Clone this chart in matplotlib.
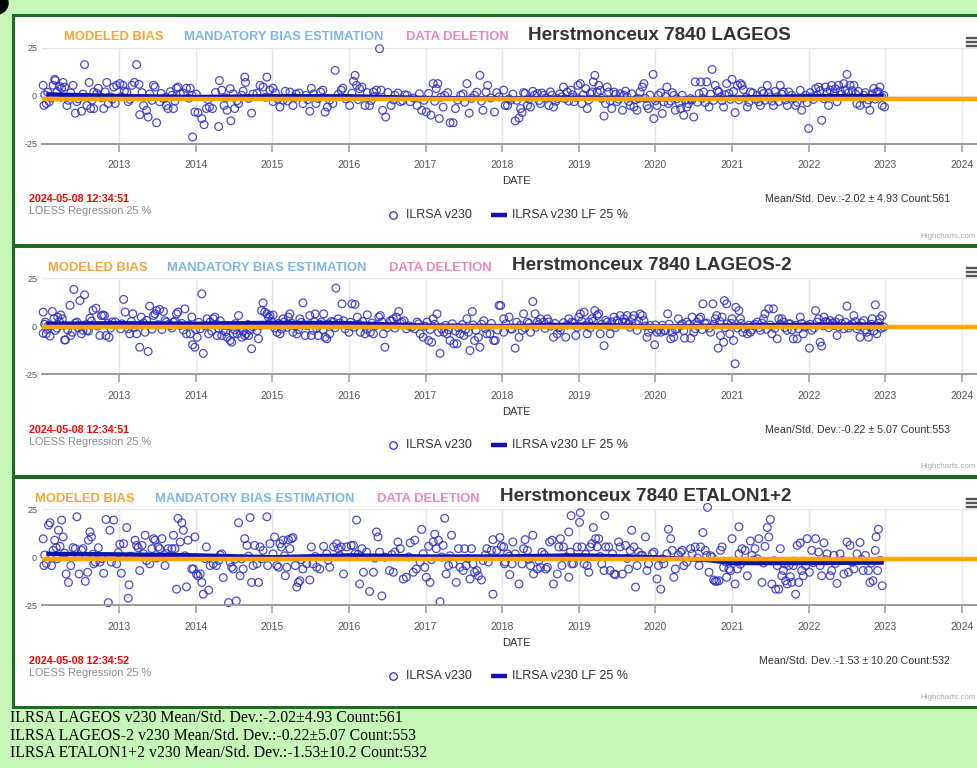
import matplotlib
matplotlib.use('Agg')
import matplotlib.pyplot as plt
from matplotlib.patches import Rectangle, Ellipse
from matplotlib.lines import Line2D

# ---------------- data ----------------
years = [2013, 2014, 2015, 2016, 2017, 2018, 2019, 2020, 2021, 2022, 2023, 2024]
y_ticks = [-25, 0, 25]

titles = ['Herstmonceux 7840 LAGEOS', 'Herstmonceux 7840 LAGEOS-2', 'Herstmonceux 7840 ETALON1+2']
timestamps = ['2024-05-08 12:34:51', '2024-05-08 12:34:51', '2024-05-08 12:34:52']
stats_text = ['Mean/Std. Dev.:-2.02 \u00b1 4.93 Count:561',
              'Mean/Std. Dev.:-0.22 \u00b1 5.07 Count:553',
              'Mean/Std. Dev.:-1.53 \u00b1 10.20 Count:532']
summary_lines = ['ILRSA LAGEOS v230 Mean/Std. Dev.:-2.02\u00b14.93 Count:561',
                 'ILRSA LAGEOS-2 v230 Mean/Std. Dev.:-0.22\u00b15.07 Count:553',
                 'ILRSA ETALON1+2 v230 Mean/Std. Dev.:-1.53\u00b110.2 Count:532']
modeled_bias = [-1.6, -0.4, -0.8]

lageos_pts = [
(2012.01,5.4),(2012.02,-5.1),(2012.05,-4.1),(2012.09,-3.1),(2012.14,5.4),(2012.16,8.5),(2012.17,7.9),(2012.22,4.9),(2012.25,3.9),(2012.27,6.9),(2012.29,4.5),(2012.32,-5.1),(2012.34,-2.4),(2012.40,5.4),(2012.43,-9.1),(2012.45,-3.1),(2012.51,-8.1),(2012.55,16.2),(2012.58,-5.1),(2012.61,6.9),(2012.63,-6.7),(2012.67,-6.7),(2012.67,1.9),(2012.73,3.9),(2012.80,-6.7),(2012.84,6.9),(2012.86,-4.1),(2012.89,-0.6),(2012.93,4.5),(2012.95,-4.1),(2012.97,5.4),(2013.01,6.3),(2013.05,5.4),(2013.10,1.9),(2013.12,-3.1),(2013.17,5.4),(2013.20,6.9),(2013.23,16.2),(2013.26,5.9),(2013.27,-9.9),(2013.32,-5.1),(2013.36,-7.6),(2013.38,-11.1),(2013.40,0.9),(2013.45,5.4),(2013.47,4.5),(2013.49,-14.1),(2013.53,-3.1),(2013.58,-1.5),(2013.62,-5.1),(2013.64,-6.7),(2013.69,0.2),(2013.71,-6.7),(2013.75,3.9),(2013.77,4.5),(2013.80,0.9),(2013.88,3.9),(2013.93,3.9),(2013.95,0.2),(2013.96,-21.5),(2013.99,-8.5),(2014.03,-8.8),(2014.08,-11.9),(2014.11,-15.1),(2014.14,-6.7),(2014.18,-5.9),(2014.22,-6.7),(2014.30,-16.1),(2014.31,7.9),(2014.34,2.9),(2014.37,-5.1),(2014.41,-7.6),(2014.45,3.7),(2014.46,-13.1),(2014.51,-6.7),(2014.56,-4.1),(2014.60,0.2),(2014.64,9.7),(2014.65,6.9),(2014.73,-9.1),(2014.75,0.9),(2014.84,5.4),(2014.88,4.5),(2014.93,9.7),(2014.97,2.9),(2015.01,3.9),(2015.01,-3.1),(2015.10,-5.9),(2015.14,-2.4),(2015.23,1.9),(2015.27,-5.1),(2015.31,0.9),(2015.40,-4.1),(2015.44,0.2),(2015.49,-8.1),(2015.51,3.9),(2015.57,-4.1),(2015.66,2.9),(2015.69,-8.5),(2015.72,-5.9),(2015.79,-4.1),(2015.82,13.2),(2015.90,2.9),(2015.92,3.9),(2016.01,-5.1),(2016.06,7.5),(2016.08,10.6),(2016.10,5.4),(2016.14,3.7),(2016.17,4.5),(2016.21,-5.1),(2016.27,-5.1),(2016.32,1.9),(2016.36,2.9),(2016.40,24.5),(2016.42,2.9),(2016.44,-7.6),(2016.48,-11.1),(2016.55,-5.1),(2016.60,0.2),(2016.67,-3.1),(2016.76,0.2),(2016.80,-3.1),(2016.89,-5.1),(2016.95,-7.6),(2017.01,-8.5),(2017.07,-10.1),(2017.10,6.3),(2017.14,3.7),(2017.16,6.3),(2017.18,-11.9),(2017.23,-5.9),(2017.25,0.2),(2017.32,-14.1),(2017.36,-14.1),(2017.39,-6.7),(2017.46,0.2),(2017.54,6.3),(2017.57,-9.1),(2017.64,0.2),(2017.71,10.6),(2017.75,-7.6),(2017.79,1.9),(2017.81,5.4),(2017.90,-8.5),(2017.96,-0.6),(2018.02,2.9),(2018.04,-5.1),
(2018.07,-5.1),(2018.11,-2.4),(2018.17,-13.1),(2018.22,-11.6),(2018.24,-6.7),(2018.26,-8.8),(2018.28,1.6),(2018.33,-5.1),(2018.37,-5.9),(2018.42,0.2),(2018.46,1.1),(2018.50,-4.1),(2018.54,0.2),(2018.61,-5.1),(2018.65,0.2),(2018.67,-5.9),(2018.72,-1.5),(2018.78,-0.6),(2018.80,4.5),(2018.85,1.9),(2018.90,2.9),(2018.94,-3.1),(2018.99,5.4),(2019.02,6.3),(2019.04,-4.1),(2019.09,3.7),(2019.11,-6.7),(2019.15,1.1),(2019.19,7.2),(2019.21,10.6),(2019.24,1.9),(2019.26,5.4),(2019.28,2.8),(2019.33,-10.6),(2019.35,-4.1),(2019.37,4.5),(2019.39,1.9),(2019.43,-6.7),(2019.46,1.9),(2019.50,-3.1),(2019.54,1.1),(2019.57,-7.6),(2019.59,0.2),(2019.63,-0.6),(2019.67,-5.1),(2019.72,-5.9),(2019.76,-7.6),(2019.78,-1.5),(2019.80,1.9),(2019.83,4.5),(2019.85,6.3),(2019.89,-5.1),(2019.91,-6.7),(2019.97,11.1),(2019.98,-11.9),(2020.02,-5.1),(2020.04,0.2),(2020.09,-9.3),(2020.15,4.5),(2020.17,-4.1),(2020.24,0.2),(2020.26,-7.6),(2020.33,-6.7),(2020.37,-10.2),(2020.41,-5.9),(2020.46,-1.5),(2020.50,-11.1),(2020.52,7.2),(2020.57,1.1),(2020.59,7.2),(2020.63,1.9),(2020.67,7.2),(2020.70,-5.9),(2020.74,13.7),(2020.78,5.4),(2020.83,1.9),(2020.85,-0.6),(2020.89,-5.9),(2020.93,6.3),(2020.96,1.1),(2021.00,8.5),(2021.04,-8.8),(2021.07,5.4),(2021.11,6.3),(2021.13,5.4),(2021.20,-5.9),(2021.24,1.9),(2021.33,0.2),(2021.37,-5.1),(2021.41,1.1),(2021.46,5.4),(2021.50,-0.6),(2021.54,-5.1),(2021.59,-0.6),(2021.63,5.4),(2021.67,1.9),(2021.72,-5.1),(2021.78,0.2),(2021.83,-5.1),(2021.89,2.8),(2021.91,-7.6),(2021.96,0.2),(2022.00,-17.1),(2022.04,-0.6),(2022.09,3.7),(2022.13,4.5),(2022.17,-12.8),(2022.22,4.5),(2022.26,-5.1),(2022.30,5.4),(2022.37,-3.1),(2022.39,5.4),(2022.46,6.3),(2022.50,11.1),(2022.54,5.4),(2022.59,5.4),(2022.63,-4.1),(2022.67,-5.1),(2022.72,0.2),(2022.76,-4.1),(2022.80,-7.6),(2022.85,3.7),(2022.89,1.9),(2022.93,4.5),(2022.96,-5.1),(2022.98,0.2),(2022.99,-5.9),
]
lageos_cluster = [
(2012.03,0.5),(2012.07,1.8),(2012.11,-1.2),(2012.19,2.2),(2012.24,-0.8),(2012.37,1.5),(2012.47,-1.6),(2012.53,0.8),(2012.65,-2.2),(2012.71,1.2),(2012.77,-1.0),(2012.82,2.0),(2012.91,-1.8),(2013.03,-0.5),(2013.07,2.4),(2013.14,-1.9),(2013.30,1.6),(2013.43,-2.4),(2013.55,1.2),(2013.61,-0.9),(2013.67,2.1),(2013.73,-2.8),(2013.84,1.4),(2013.91,-1.3),(2014.01,0.8),(2014.16,-2.0),(2014.26,1.7),(2014.39,-1.1),(2014.49,1.0),(2014.54,-2.6),(2014.62,2.4),(2014.69,-1.4),(2014.80,1.2),(2014.91,-0.8),(2015.04,1.5),(2015.07,-1.8),(2015.17,2.3),(2015.20,-2.7),(2015.29,-1.0),(2015.35,1.4),(2015.46,-2.1),(2015.54,0.9),(2015.60,-1.5),(2015.63,1.9),(2015.75,-2.3),(2015.86,0.6),(2015.96,-1.7),(2016.04,1.3),(2016.12,-2.0),(2016.24,1.6),(2016.29,-2.5),(2016.34,-0.4),(2016.51,1.7),(2016.58,-2.2),(2016.64,1.4),(2016.70,-2.6),(2016.73,0.5),(2016.84,-1.2),(2016.92,1.0),(2016.98,-2.4),(2017.04,1.2),(2017.12,-2.9),(2017.20,-0.8),(2017.29,1.6),(2017.42,-2.2),(2017.49,0.9),(2017.51,-3.4),(2017.60,-1.4),(2017.67,1.8),(2017.73,-2.8),(2017.85,-1.2),(2017.93,1.6),(2018.09,-1.6),(2018.14,0.8),(2018.19,-2.4),(2018.30,1.2),(2018.35,-1.8),(2018.40,2.3),(2018.48,-2.5),(2018.52,1.4),(2018.57,-1.2),(2018.63,2.0),(2018.70,-2.9),(2018.75,0.9),(2018.82,-1.6),(2018.87,-2.8),(2018.92,0.5),(2018.97,-1.0),(2019.06,0.4),(2019.13,-2.2),(2019.17,2.0),(2019.30,-1.4),(2019.41,-2.6),(2019.48,0.7),(2019.52,-1.8),(2019.61,2.4),(2019.65,-2.9),(2019.69,1.0),(2019.74,-2.0),(2019.87,-1.4),(2019.93,0.3),(2020.00,-2.6),(2020.07,1.5),(2020.11,-3.2),(2020.13,-0.4),(2020.20,-2.8),(2020.22,1.6),(2020.28,-1.6),(2020.31,-3.6),(2020.35,0.2),(2020.39,-2.4),(2020.43,-4.1),(2020.48,-2.2),(2020.55,-3.4),(2020.61,-1.4),(2020.65,-3.6),(2020.72,0.8),(2020.76,-2.4),(2020.81,2.6),(2020.87,-2.6),(2020.91,0.4),(2020.98,-1.9),(2021.02,2.2),(2021.09,-2.2),(2021.15,3.2),(2021.18,-1.0),(2021.22,-3.4),(2021.27,1.4),(2021.30,-1.8),(2021.35,-3.2),(2021.39,2.4),(2021.43,-2.4),(2021.48,1.2),(2021.52,-2.8),(2021.56,2.2),(2021.61,-3.0),(2021.65,0.8),(2021.70,-2.2),(2021.74,2.0),(2021.80,-1.4),(2021.85,-3.4),(2021.93,-1.2),(2021.98,-3.6),(2022.02,1.6),(2022.06,-2.0),(2022.11,0.4),(2022.15,2.6),(2022.20,-1.6),(2022.24,1.8),(2022.28,2.9),(2022.33,1.2),(2022.35,3.6),(2022.41,2.4),(2022.43,0.6),(2022.48,3.0),(2022.52,1.4),(2022.57,2.6),(2022.61,0.8),(2022.65,2.2),(2022.70,-1.2),(2022.74,1.6),(2022.78,-2.2),(2022.83,0.9),(2022.87,-1.8),(2022.91,2.0),(2022.95,-0.4),
]

lageos2_pts = [
(2012.01,7.5),(2012.01,-3.5),(2012.05,-3.8),(2012.10,-5.0),(2012.04,2.3),(2012.08,0.5),(2012.13,7.8),(2012.15,4.0),(2012.17,-2.0),(2012.20,4.9),(2012.24,6.0),(2012.26,4.0),(2012.29,-7.0),(2012.30,-7.0),(2012.36,11.0),(2012.37,-4.7),(2012.39,-3.0),(2012.41,19.3),(2012.45,2.3),(2012.49,13.5),(2012.51,-3.8),(2012.53,-2.0),(2012.55,16.5),(2012.58,-2.0),(2012.62,4.3),(2012.66,8.5),(2012.70,9.5),(2012.75,-4.7),(2012.77,5.7),(2012.79,6.0),(2012.81,5.7),(2012.83,-4.7),(2012.87,-5.6),(2012.91,2.3),
(2013.06,14.1),(2013.08,7.5),(2013.12,-1.2),(2013.14,-3.8),(2013.18,6.6),(2013.23,-3.8),(2013.27,-10.8),(2013.29,4.9),(2013.34,-3.0),(2013.38,-13.0),(2013.40,10.6),(2013.45,5.7),(2013.47,6.6),(2013.49,8.3),(2013.53,8.9),(2013.58,7.8),(2013.62,2.3),(2013.67,0.5),(2013.71,2.3),(2013.75,6.6),(2013.77,7.5),(2013.80,0.5),(2013.86,9.2),(2013.88,-3.8),(2013.93,-3.8),(2013.95,4.9),(2013.96,-9.5),(2013.99,-10.8),(2014.02,-5.6),(2014.06,-1.2),(2014.08,17.0),(2014.10,-14.0),(2014.15,4.0),(2014.17,-3.8),(2014.19,2.3),(2014.23,4.0),(2014.25,4.9),(2014.28,-4.7),(2014.32,3.0),(2014.34,-4.7),(2014.36,-2.0),(2014.41,-5.6),(2014.43,0.5),(2014.45,-7.3),(2014.47,-8.2),(2014.49,-3.8),(2014.54,-3.8),(2014.56,5.7),(2014.60,-5.6),(2014.64,-4.7),(2014.66,-3.8),(2014.69,-4.7),(2014.73,-11.6),(2014.77,0.5),(2014.82,-6.4),(2014.84,0.5),(2014.86,8.3),(2014.88,12.3),(2014.90,7.5),(2014.93,6.6),(2014.95,4.9),(2014.97,5.7),(2015.01,6.0),
(2015.06,-3.0),(2015.10,-3.8),(2015.14,4.0),(2015.21,4.9),(2015.23,6.6),(2015.27,-3.0),(2015.32,-3.8),(2015.36,4.0),(2015.40,12.3),(2015.43,-4.7),(2015.45,0.5),(2015.49,5.7),(2015.51,-4.7),(2015.53,-2.0),(2015.56,6.6),(2015.60,-4.7),(2015.64,2.3),(2015.67,6.6),(2015.69,-5.6),(2015.71,-6.4),(2015.75,-3.8),(2015.80,2.3),(2015.83,20.0),(2015.86,4.0),(2015.91,11.8),(2015.95,-1.2),(2016.00,-3.0),(2016.04,11.8),(2016.08,11.5),(2016.11,4.9),(2016.15,-3.0),(2016.21,-3.8),(2016.24,6.1),(2016.28,-3.0),(2016.32,-3.8),(2016.39,4.9),(2016.41,5.7),(2016.45,-3.8),(2016.47,-10.8),(2016.54,3.0),(2016.58,4.0),(2016.62,4.9),(2016.65,7.8),(2016.69,2.3),(2016.75,-1.2),(2016.82,-0.3),(2016.89,2.3),(2016.93,-3.8),(2016.97,-5.6),(2017.02,2.3),(2017.04,-7.3),(2017.08,-8.2),(2017.10,4.0),(2017.15,6.6),(2017.17,-3.0),(2017.19,-14.0),(2017.24,-3.0),(2017.28,-3.8),(2017.32,-7.3),(2017.37,-9.0),(2017.41,-9.0),(2017.45,-3.8),(2017.50,-4.7),(2017.54,4.0),(2017.56,-3.0),(2017.58,-12.5),(2017.61,7.8),(2017.64,-7.3),(2017.69,-5.6),(2017.71,-10.8),(2017.76,3.0),(2017.80,-3.8),(2017.84,-3.8),(2017.89,-7.3),(2017.91,-7.3),(2017.96,11.0),(2018.02,-3.0),
(2017.98,10.9),(2018.02,4.0),(2018.09,4.9),(2018.11,-1.2),(2018.17,-11.3),(2018.22,-5.6),(2018.26,-2.0),(2018.28,6.6),(2018.33,2.3),(2018.37,-3.0),(2018.40,13.0),(2018.43,6.6),(2018.46,2.3),(2018.50,4.0),(2018.54,2.3),(2018.59,4.0),(2018.67,-5.6),(2018.72,-3.8),(2018.76,-2.0),(2018.83,-5.6),(2018.87,4.0),(2018.91,2.3),(2018.96,-4.7),(2019.00,4.9),(2019.02,6.6),(2019.07,7.5),(2019.11,-3.8),(2019.13,2.3),(2019.17,4.0),(2019.21,8.3),(2019.24,5.7),(2019.26,6.6),(2019.28,-3.8),(2019.33,-10.0),(2019.37,2.3),(2019.41,-3.8),(2019.46,4.9),(2019.50,3.1),(2019.54,5.7),(2019.57,2.3),(2019.59,4.0),(2019.63,5.7),(2019.65,1.4),(2019.70,4.0),(2019.72,5.7),(2019.76,-2.0),(2019.80,6.6),(2019.83,5.7),(2019.85,3.1),(2019.89,-5.6),(2019.91,-3.0),(2019.93,0.5),(2019.99,-9.5),(2020.02,-3.0),(2020.07,-3.0),(2020.11,-2.0),(2020.16,6.6),(2020.20,-6.4),(2020.22,-3.0),(2020.24,-5.6),(2020.28,-1.2),(2020.30,4.0),(2020.35,1.4),(2020.38,-6.1),(2020.41,2.3),(2020.46,-6.1),(2020.48,4.9),(2020.50,-3.0),(2020.54,2.3),(2020.57,4.0),(2020.59,4.9),(2020.62,11.8),(2020.65,1.4),(2020.72,-3.0),(2020.75,11.8),(2020.78,4.0),(2020.80,5.7),(2020.82,-11.3),(2020.85,-4.7),(2020.87,4.9),(2020.89,-8.2),(2020.90,13.5),(2020.93,11.8),(2020.94,1.4),(2020.97,-3.8),(2021.00,4.0),(2021.02,-7.3),(2021.04,-19.4),(2021.05,10.0),(2021.09,8.3),(2021.11,4.0),(2021.14,-3.0),(2021.20,-3.8),(2021.24,-3.0),(2021.28,0.5),(2021.33,2.3),(2021.37,-2.0),(2021.41,4.0),(2021.43,6.6),(2021.48,9.2),(2021.52,-3.8),(2021.54,9.2),(2021.59,-6.4),(2021.61,4.0),(2021.65,4.0),(2021.67,2.3),(2021.72,-2.0),(2021.76,1.4),(2021.80,-6.4),(2021.85,-6.4),(2021.89,4.9),(2021.93,-3.8),(2021.98,0.5),(2022.01,-11.3),(2022.04,-2.0),(2022.09,8.3),(2022.13,4.0),(2022.15,-8.2),(2022.17,-10.2),(2022.20,4.9),(2022.24,2.3),(2022.28,3.1),(2022.33,0.5),(2022.37,-4.7),(2022.40,4.0),(2022.46,-1.2),(2022.50,10.6),(2022.54,0.5),(2022.59,5.7),(2022.63,-1.2),(2022.67,-5.6),(2022.72,3.1),(2022.78,-5.6),(2022.80,-0.3),(2022.83,4.0),(2022.87,11.3),(2022.89,-3.8),(2022.93,4.0),(2022.96,5.7),(2022.98,-0.3),
]
lageos2_cluster = [
(2012.03,1.2),(2012.06,-1.5),(2012.11,0.4),(2012.19,-0.8),(2012.22,2.6),(2012.28,0.6),(2012.33,-1.8),(2012.43,1.8),(2012.47,-0.6),(2012.57,1.0),(2012.60,-2.4),(2012.64,2.8),(2012.72,0.2),(2012.85,1.6),(2012.89,-0.8),(2012.95,2.4),(2013.02,-1.2),(2013.04,1.4),(2013.16,2.6),(2013.20,-0.6),(2013.32,1.8),(2013.36,3.2),(2013.43,-1.4),(2013.51,1.0),(2013.56,-1.6),(2013.60,3.0),(2013.65,1.2),(2013.69,-0.8),(2013.73,2.8),(2013.82,1.6),(2013.84,-1.8),(2013.91,0.8),(2014.00,-1.5),(2014.04,2.2),(2014.12,0.4),(2014.21,-2.4),(2014.27,1.2),(2014.30,-1.0),(2014.38,0.6),(2014.39,-2.8),(2014.51,-1.8),(2014.52,1.5),(2014.58,-0.6),(2014.62,-2.6),(2014.68,1.0),(2014.71,-1.8),(2014.75,-0.2),(2014.80,-2.2),(2014.99,2.6),(2015.03,-0.8),(2015.08,1.6),(2015.12,-1.4),(2015.16,2.4),(2015.19,-0.4),(2015.25,1.8),(2015.30,0.2),(2015.34,-1.6),(2015.38,2.2),(2015.47,0.8),(2015.55,2.4),(2015.58,-1.0),(2015.62,1.2),(2015.66,-1.6),(2015.73,1.4),(2015.77,2.6),(2015.82,-0.6),(2015.88,1.8),(2015.93,3.0),(2015.98,0.6),(2016.02,2.2),(2016.06,-0.4),(2016.13,1.2),(2016.18,2.6),(2016.23,-1.4),(2016.30,1.8),(2016.35,0.4),(2016.43,2.4),(2016.50,-0.6),(2016.56,2.8),(2016.60,-0.8),(2016.67,1.6),(2016.72,3.0),(2016.78,0.4),(2016.86,-1.2),(2016.91,1.4),(2016.99,0.2),(2017.06,-1.6),(2017.12,1.2),(2017.21,-1.2),(2017.26,0.6),(2017.30,-1.8),(2017.35,1.4),(2017.39,-2.4),(2017.43,-0.6),(2017.48,1.0),(2017.52,-1.6),(2017.62,0.8),(2017.66,-2.0),(2017.73,1.2),(2017.78,-1.0),(2017.86,1.6),(2017.94,-1.8),(2018.05,1.4),(2018.13,-1.4),(2018.19,2.2),(2018.24,0.6),(2018.30,-0.8),(2018.35,1.6),(2018.44,-0.4),(2018.48,1.2),(2018.56,-1.0),(2018.61,2.4),(2018.63,0.2),(2018.69,1.6),(2018.74,-0.6),(2018.80,2.0),(2018.85,0.8),(2018.93,1.8),(2018.98,-0.4),(2019.04,2.6),(2019.09,0.6),(2019.15,-0.8),(2019.19,2.8),(2019.30,1.2),(2019.35,3.2),(2019.39,0.4),(2019.43,2.4),(2019.48,-0.6),(2019.52,1.8),(2019.61,2.2),(2019.67,-0.4),(2019.74,1.6),(2019.78,2.8),(2019.87,0.2),(2019.95,-1.2),(2020.00,0.8),(2020.04,-1.6),(2020.09,0.6),(2020.13,-2.2),(2020.18,1.2),(2020.26,-1.4),(2020.33,0.4),(2020.37,-2.2),(2020.43,1.0),(2020.52,-1.2),(2020.55,0.8),(2020.61,-1.6),(2020.67,1.8),(2020.70,-0.8),(2020.77,1.2),(2020.84,2.6),(2020.91,-0.6),(2020.99,1.6),(2021.07,-0.8),(2021.12,1.6),(2021.17,-1.2),(2021.22,0.6),(2021.26,-1.8),(2021.30,1.2),(2021.35,-0.6),(2021.39,1.8),(2021.45,-1.4),(2021.50,0.8),(2021.56,-1.0),(2021.63,1.2),(2021.69,-0.6),(2021.74,1.4),(2021.78,-1.8),(2021.83,0.6),(2021.87,-1.2),(2021.91,1.6),(2021.95,-0.4),(2022.02,1.2),(2022.07,-0.8),(2022.11,2.2),(2022.19,0.4),(2022.22,2.6),(2022.26,-0.6),(2022.31,1.8),(2022.35,2.4),(2022.39,-0.2),(2022.43,1.6),(2022.48,2.2),(2022.52,-0.8),(2022.57,1.4),(2022.61,2.6),(2022.65,0.2),(2022.69,1.8),(2022.74,-1.6),(2022.76,-3.0),(2022.82,1.2),(2022.85,-2.4),(2022.91,1.6),(2022.94,-1.0),
]

etalon_pts = [
(2012.01,9.6),(2012.02,-4.3),(2012.05,-3.1),(2012.08,16.8),(2012.10,18.0),(2012.12,-4.3),(2012.14,3.6),(2012.16,8.9),(2012.18,5.0),(2012.21,14.1),(2012.23,5.7),(2012.25,19.4),(2012.27,10.6),(2012.31,-8.7),(2012.34,-13.1),(2012.37,-4.3),(2012.40,5.0),(2012.43,4.5),(2012.45,21.1),(2012.48,-8.7),(2012.51,3.6),(2012.53,4.5),(2012.56,-12.5),(2012.59,-7.8),(2012.60,8.9),(2012.62,13.2),(2012.64,10.6),(2012.67,-3.4),(2012.69,-2.5),(2012.73,5.0),(2012.75,-2.5),(2012.80,-8.3),(2012.83,19.7),(2012.86,-23.6),(2012.88,14.1),(2012.90,-2.5),(2012.93,19.4),(2012.97,-3.4),(2013.01,6.8),(2013.03,-8.3),(2013.06,7.1),(2013.10,15.5),(2013.12,-21.3),(2013.13,-14.3),(2013.21,8.9),(2013.23,6.2),(2013.25,5.0),(2013.27,-6.9),(2013.30,6.2),(2013.34,11.5),(2013.36,-1.7),(2013.40,-3.4),(2013.43,4.5),(2013.45,9.7),(2013.47,8.9),(2013.51,5.4),(2013.53,4.5),(2013.56,9.7),(2013.60,-4.3),(2013.64,4.5),(2013.69,4.5),(2013.71,11.5),(2013.73,4.5),(2013.75,-16.6),(2013.77,20.3),(2013.80,8.0),(2013.82,18.0),(2013.84,14.1),(2013.88,-15.4),(2013.90,8.9),(2013.95,-6.1),(2013.97,-6.1),(2013.99,10.6),(2014.01,-8.7),(2014.03,-9.6),(2014.06,-8.7),(2014.08,-13.1),(2014.10,-19.2),(2014.14,5.4),(2014.17,-17.1),(2014.19,-4.3),(2014.23,-3.4),(2014.27,-4.3),(2014.30,-1.7),(2014.34,1.8),(2014.36,-10.6),(2014.43,-23.6),(2014.45,-2.5),(2014.47,-5.2),(2014.49,-6.1),(2014.53,-22.7),(2014.56,18.0),(2014.58,-9.6),(2014.60,-0.8),(2014.62,-6.1),(2014.64,9.7),(2014.67,6.2),(2014.71,20.7),(2014.73,-13.1),(2014.75,-4.3),(2014.77,6.2),(2014.80,-3.4),(2014.82,-13.1),(2014.84,5.4),(2014.88,3.6),(2014.93,21.1),(2014.94,-4.3),(2014.97,7.1),(2015.01,1.8),(2015.03,10.6),(2015.06,-4.3),(2015.08,-5.2),(2015.10,7.1),(2015.12,5.4),(2015.14,8.9),(2015.17,-9.6),(2015.19,-5.2),(2015.21,9.2),(2015.23,4.5),(2015.25,9.7),(2015.27,10.3),(2015.30,-4.3),(2015.32,-15.5),(2015.34,-13.1),(2015.36,-12.2),(2015.40,-6.1),(2015.45,-3.4),(2015.49,-11.8),(2015.51,5.4),(2015.53,-3.4),(2015.58,-5.2),(2015.62,-6.1),(2015.67,5.7),(2015.71,1.8),(2015.75,-5.2),(2015.80,5.4),(2015.84,7.1),(2015.86,4.5),(2015.90,5.4),(2015.93,-8.7),(2015.97,5.4),(2016.03,6.2),(2016.06,6.2),(2016.08,1.8),(2016.10,19.4),(2016.14,-13.9),(2016.17,4.5),(2016.19,-7.8),(2016.23,2.7),(2016.27,-17.8),(2016.32,-7.8),(2016.36,13.2),(2016.38,10.6),(2016.40,2.7),(2016.43,-20.1),(2016.47,0.1),(2016.53,-6.9),(2016.58,-7.8),(2016.60,2.7),(2016.64,8.0),(2016.67,4.5),(2016.71,-11.3),(2016.75,-10.4),(2016.80,7.5),(2016.84,-7.8),(2016.86,8.9),(2016.88,-6.1),(2016.93,-2.5),(2016.95,14.5),(2016.97,1.8),(2016.99,-5.2),(2017.01,-10.4),(2017.04,5.7),(2017.06,-13.1),(2017.10,8.0),(2017.12,12.0),(2017.14,4.5),(2017.17,8.9),(2017.19,-23.1),(2017.21,0.1),(2017.23,6.2),(2017.25,20.3),(2017.27,-8.7),(2017.30,-4.3),(2017.34,11.5),(2017.36,-3.4),(2017.40,-13.1),(2017.43,4.5),(2017.45,-5.2),(2017.49,-6.9),(2017.51,4.5),(2017.53,-4.3),(2017.58,-11.3),(2017.60,4.5),(2017.62,-3.4),(2017.64,-7.8),(2017.67,-6.9),(2017.69,-9.6),(2017.73,-11.8),(2017.75,-1.7),(2017.80,4.5),(2017.82,-2.5),(2017.86,3.6),(2017.88,-19.2),(2017.88,9.2),(2017.93,3.6),(2017.97,10.3),(2017.99,5.7),(2018.03,-3.4),
(2018.02,5.4),(2018.04,-2.5),(2018.07,1.8),(2018.10,-9.0),(2018.13,-3.4),(2018.14,8.0),(2018.17,1.8),(2018.22,-13.9),(2018.26,-3.4),(2018.28,4.5),(2018.30,9.2),(2018.33,3.6),(2018.37,-4.3),(2018.40,11.5),(2018.41,-8.7),(2018.46,-6.1),(2018.48,-1.7),(2018.50,-5.2),(2018.52,2.7),(2018.57,-6.1),(2018.59,-5.2),(2018.62,8.0),(2018.65,8.9),(2018.67,-13.9),(2018.72,-8.7),(2018.74,5.4),(2018.76,9.7),(2018.78,-4.3),(2018.80,5.4),(2018.87,-10.4),(2018.87,13.2),(2018.89,2.7),(2018.90,21.7),(2018.91,-3.4),(2018.93,-3.4),(2018.98,5.4),(2019.01,18.2),(2019.02,23.2),(2019.04,5.4),(2019.07,-3.4),(2019.11,-4.3),(2019.13,-7.8),(2019.15,5.4),(2019.17,7.1),(2019.19,15.5),(2019.22,9.7),(2019.24,5.4),(2019.26,9.7),(2019.30,-3.4),(2019.33,-6.9),(2019.34,21.7),(2019.35,5.4),(2019.39,5.4),(2019.41,-6.9),(2019.46,-8.7),(2019.48,-9.0),(2019.52,8.0),(2019.54,5.4),(2019.57,-8.7),(2019.61,6.2),(2019.65,-6.1),(2019.67,3.6),(2019.69,14.1),(2019.72,5.4),(2019.74,-15.5),(2019.76,-4.3),(2019.78,2.7),(2019.83,1.0),(2019.87,10.6),(2019.89,-6.9),(2019.91,-3.4),(2019.96,1.8),(2019.98,2.7),(2020.02,-11.3),(2020.04,-4.3),(2020.07,-16.6),(2020.11,-3.4),(2020.15,1.8),(2020.17,14.6),(2020.20,9.7),(2020.22,3.6),(2020.24,-10.4),(2020.26,-6.1),(2020.33,2.7),(2020.35,3.6),(2020.37,-4.3),(2020.41,-2.5),(2020.46,4.5),(2020.48,1.8),(2020.52,5.4),(2020.57,-4.3),(2020.59,5.4),(2020.62,12.9),(2020.65,3.6),(2020.67,1.0),(2020.68,26.0),(2020.70,-7.8),(2020.74,0.1),(2020.76,-11.8),(2020.78,-12.5),(2020.80,-12.5),(2020.83,-12.2),(2020.85,3.6),(2020.87,5.4),(2020.89,-5.2),(2020.93,-10.4),(2020.96,-6.1),(2020.98,-6.9),(2021.00,9.7),(2021.04,-13.9),(2021.07,-6.1),(2021.09,1.8),(2021.09,15.9),(2021.13,4.5),(2021.17,3.6),(2021.20,-9.6),(2021.24,8.5),(2021.26,1.0),(2021.30,4.5),(2021.33,-0.8),(2021.35,9.7),(2021.39,-13.1),(2021.43,5.7),(2021.46,15.5),(2021.48,10.6),(2021.50,19.7),(2021.52,-13.9),(2021.57,-16.6),(2021.59,-4.3),(2021.61,-16.6),(2021.63,4.5),(2021.65,-9.6),(2021.67,-6.9),(2021.70,-12.2),(2021.72,-13.9),(2021.74,-4.3),(2021.76,-10.1),(2021.78,-13.1),(2021.80,-4.3),(2021.83,-19.2),(2021.85,6.2),(2021.87,-13.1),(2021.89,7.5),(2021.91,-6.9),(2021.93,-9.6),(2021.96,-4.3),(2021.98,9.7),(2022.01,-7.8),(2022.04,3.6),(2022.09,9.7),(2022.13,2.7),(2022.15,-4.3),(2022.17,-9.6),(2022.20,7.5),(2022.24,1.8),(2022.28,-9.6),(2022.30,-6.9),(2022.33,1.0),(2022.37,-13.6),(2022.41,1.8),(2022.46,-8.7),(2022.50,8.0),(2022.52,-7.8),(2022.54,6.2),(2022.59,-6.1),(2022.63,1.8),(2022.67,7.7),(2022.71,-6.9),(2022.74,1.0),(2022.78,-6.9),(2022.80,-13.1),(2022.84,-12.2),(2022.87,3.6),(2022.88,10.6),(2022.90,-6.9),(2022.91,14.6),(2022.96,-14.8),
]
etalon_cluster = [
(2012.03,1.2),(2012.19,-0.8),(2012.29,2.2),(2012.47,0.4),(2012.66,1.6),(2012.78,-0.6),(2012.99,2.4),(2013.15,0.6),(2013.32,1.8),(2013.49,-0.4),(2013.62,2.0),(2013.86,0.8),(2014.12,-0.6),(2014.32,1.2),(2014.51,-1.0),(2014.69,0.6),(2014.86,-0.8),(2015.16,0.8),(2015.38,-1.2),(2015.56,0.4),(2015.73,-1.4),(2015.88,1.0),(2016.12,1.6),(2016.34,-0.4),(2016.56,1.4),(2016.78,0.2),(2017.08,-1.2),(2017.32,0.8),(2017.55,-0.6),(2017.78,1.2),(2018.09,0.6),(2018.35,-1.0),(2018.55,1.4),(2018.84,0.2),(2019.09,1.6),(2019.28,0.4),(2019.44,1.8),(2019.63,-0.6),(2019.81,1.0),(2020.09,-0.8),(2020.30,1.2),(2020.55,-0.4),(2020.72,0.8),(2020.92,-2.4),(2021.11,-3.6),(2021.28,-1.4),(2021.41,-3.0),(2021.55,-1.8),(2021.69,-3.4),(2021.81,-2.0),(2022.06,-2.8),(2022.22,-1.2),(2022.35,-3.2),(2022.44,-1.6),(2022.57,-2.6),(2022.69,-1.0),(2022.82,-3.0),(2022.93,-1.6),
]

lf_t = [2012.05, 2013, 2014, 2015, 2016, 2017, 2018, 2019, 2020, 2021, 2022, 2022.98]
lageos_lf = [0.7, -0.2, -0.7, -0.3, -0.3, -1.2, -1.5, -1.0, -1.9, -1.0, -0.3, -0.2]
lageos2_lf = [1.4, 1.7, 1.4, 1.9, 1.7, 0.5, 0.2, 1.0, 0.0, 0.5, 0.9, 1.0]
etalon_lf_t = [2012.05, 2013, 2014, 2015, 2016, 2017, 2018, 2019, 2020, 2020.7, 2021, 2022, 2022.98]
etalon_lf = [1.8, 1.5, 1.0, 0.0, 1.0, 0.4, 0.4, 1.0, 0.0, -1.5, -3.0, -3.0, -2.7]

panels = [
    dict(pts=lageos_pts + lageos_cluster, lf_t=lf_t, lf=lageos_lf),
    dict(pts=lageos2_pts + lageos2_cluster, lf_t=lf_t, lf=lageos2_lf),
    dict(pts=etalon_pts + etalon_cluster, lf_t=etalon_lf_t, lf=etalon_lf),
]

# ---------------- layout ----------------
W, H = 978, 768
plt.rcParams['font.family'] = ['Liberation Sans', 'DejaVu Sans']
fig = plt.figure(figsize=(W / 100, H / 100), dpi=100)
fig.patch.set_facecolor('#c6f7b7')

def fx(x):
    return x / W

def fy(y):
    return 1 - y / H

STEP = 230.8
AX_L, AX_R, AX_T, AX_B = 42.4, 978.0, 47.7, 143.7
label_x = [(64, 184, 406, 528), (48, 167, 389, 512), (35, 155, 377, 500)]
label_names = ['MODELED BIAS', 'MANDATORY BIAS ESTIMATION', 'DATA DELETION']
label_colors = ['#f7a535', '#7cb5ec', '#ec86bd']
PT_COLOR = '#2d2dcc'
LF_COLOR = '#1212b4'
OR_COLOR = '#ffa500'

# black blob in top-left corner
fig.add_artist(Ellipse((fx(-3), fy(3)), 22 / W, 22 / H, transform=fig.transFigure,
                       color='black', zorder=5))

for i, p in enumerate(panels):
    off = i * STEP
    fig.add_artist(Rectangle((fx(13), fy(15 + off + 230)), fx(995) - fx(13), 230 / H,
                             transform=fig.transFigure, facecolor='white',
                             edgecolor='#1f6a24', linewidth=2.2, zorder=-1))
    ax = fig.add_axes([fx(AX_L), fy(AX_B + off), (AX_R - AX_L) / W, (AX_B - AX_T) / H])
    ax.set_facecolor('white')
    ax.set_xlim(2012.0, 2024.21)
    ax.set_ylim(-25, 25)
    ax.set_xticks(years)
    ax.set_xticklabels([str(y) for y in years])
    ax.set_yticks(y_ticks)
    ax.set_yticklabels([str(v) for v in y_ticks])
    for s in ['top', 'right', 'left']:
        ax.spines[s].set_visible(False)
    ax.spines['bottom'].set_color('#9a9a9a')
    ax.spines['bottom'].set_linewidth(1.4)
    ax.set_axisbelow(True)
    ax.grid(True, color='#e6e6e6', linewidth=1.0)
    ax.tick_params(axis='x', direction='out', length=5.8, width=1.1, color='#9a9a9a',
                   pad=6.2, labelsize=7.5, labelcolor='#555555')
    ax.tick_params(axis='y', length=0, pad=3.8, labelsize=6.5, labelcolor='#555555')

    t = [q[0] for q in p['pts']]
    v = [q[1] for q in p['pts']]
    ax.scatter(t, v, s=31, facecolors='none', edgecolors=PT_COLOR, linewidths=0.9,
               alpha=0.85, clip_on=False, zorder=2)
    ax.plot(p['lf_t'], p['lf'], color=LF_COLOR, lw=3.2, zorder=3, solid_capstyle='butt')
    ax.axhline(modeled_bias[i], color=OR_COLOR, lw=3.2, zorder=4)

    # header labels and title
    for name, col, x in zip(label_names, label_colors, label_x[i][:3]):
        fig.text(fx(x), fy(37 + off), name, color=col, fontsize=9.4, fontweight='bold',
                 ha='left', va='center')
    fig.text(fx(label_x[i][3]), fy(35 + off), titles[i], color='#333333', fontsize=13.6,
             fontweight='bold', ha='left', va='center')
    # menu icon
    for yy in (37.5, 41.5, 45.5):
        fig.add_artist(Line2D([fx(967), fx(980)], [fy(yy + off), fy(yy + off)],
                              transform=fig.transFigure, color='#555555', lw=1.7))

    fig.text(fx(516), fy(181 + off), 'DATE', color='#333333', fontsize=8,
             ha='center', va='center')
    fig.text(fx(29), fy(199 + off), timestamps[i], color='#ff0000', fontsize=7.7,
             fontweight='bold', ha='left', va='center')
    fig.text(fx(29), fy(211.3 + off), 'LOESS Regression 25 %', color='#8a8a8a',
             fontsize=7.8, ha='left', va='center')
    fig.text(fx(950), fy(199 + off), stats_text[i], color='#333333', fontsize=7.7,
             ha='right', va='center')
    fig.text(fx(976), fy(236 + off), 'Highcharts.com', color='#aaaaaa', fontsize=5.8,
             ha='right', va='center')

    # legend
    ly = 214.5 + off
    fig.add_artist(Line2D([fx(393)], [fy(ly)], transform=fig.transFigure, marker='o',
                          markersize=5.4, markerfacecolor='none', markeredgecolor=PT_COLOR,
                          markeredgewidth=0.9, linestyle='none'))
    fig.text(fx(406), fy(ly), 'ILRSA v230', color='#333333', fontsize=9,
             ha='left', va='center')
    fig.add_artist(Line2D([fx(491), fx(507)], [fy(ly), fy(ly)], transform=fig.transFigure,
                          color=LF_COLOR, lw=3.2, solid_capstyle='butt'))
    fig.text(fx(512), fy(ly), 'ILRSA v230 LF 25 %', color='#333333', fontsize=9,
             ha='left', va='center')

for k, line in enumerate(summary_lines):
    fig.text(fx(10), fy(718 + 17.5 * k), line, family='Liberation Serif', fontsize=11.3,
             color='black', ha='left', va='center')

fig.savefig('out.png', dpi=100, facecolor=fig.get_facecolor())
